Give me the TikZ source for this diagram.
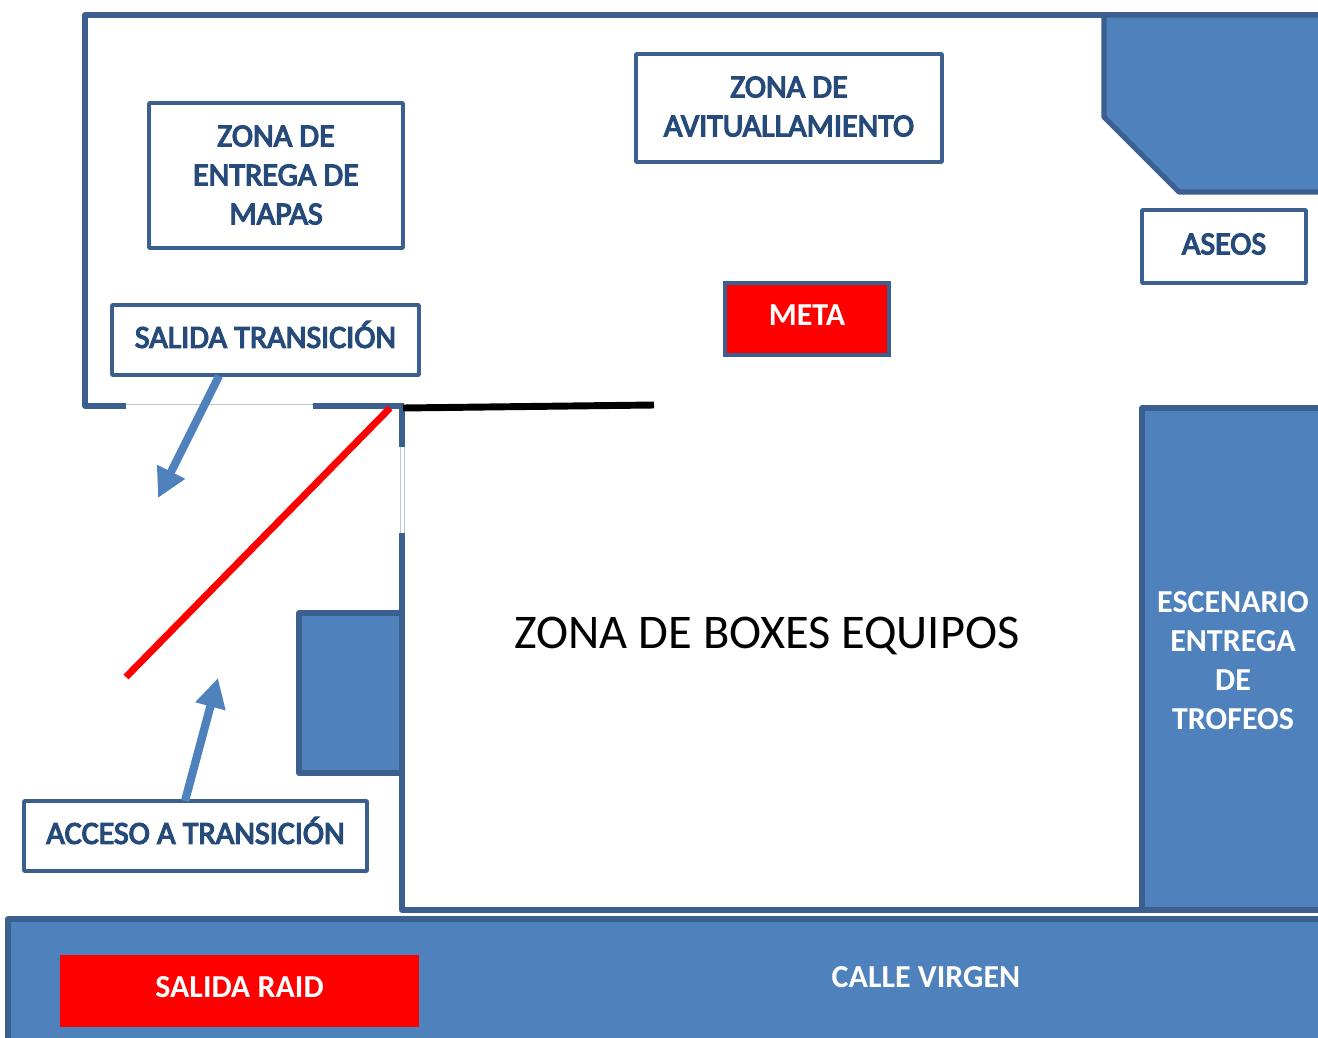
\documentclass[tikz,border=0pt]{standalone}
\usepackage{fontspec}
\setmainfont{Carlito}
\newfontfamily\heavyfont[FakeBold=4]{Carlito}
\usetikzlibrary{arrows.meta}
\definecolor{blueF}{HTML}{4F81BD}
\definecolor{blueL}{HTML}{3B6090}
\definecolor{blueT}{HTML}{264A7A}
\definecolor{redF}{HTML}{FF0000}
\newcommand{\liftby}[2]{\raisebox{\dimexpr #1pt*3/4\relax}[\height][\depth]{\begin{tabular}{@{}c@{}}#2\end{tabular}}}
\tikzset{
  x=0.75pt,y=-0.75pt,
  wall/.style={draw=blueL,line width=3.8pt,line join=round,line cap=butt},
  faint/.style={draw=blueL!35,line width=0.5pt},
  area/.style={draw=blueL,fill=blueF,line width=3.8pt,line join=round},
  labelbox/.style={draw=blueL,fill=white,line width=2.8pt,rounded corners=0.6pt,inner sep=0pt,outer sep=0pt,align=center,text=blueT,font=\heavyfont\fontsize{24}{29.25}\selectfont},
  solidbox/.style={inner sep=0pt,outer sep=0pt,align=center,text=white,font=\bfseries\fontsize{24}{29.25}\selectfont},
  flow/.style={draw=blueF,line width=6.2pt,-{Triangle[length=22pt,width=22pt]}},
  barrier/.style={line width=5.2pt,line cap=butt},
}
\begin{document}
\begin{tikzpicture}
\useasboundingbox (0,0) rectangle (1318,1038);
\clip (0,0) rectangle (1318,1038);
% building walls
\draw[wall] (126,406) -- (85,406) -- (85,15) -- (1320,15);
\draw[wall] (313,406) -- (404,406);
\draw[faint] (126,404) -- (313,404);
\draw[wall] (402,406) -- (402,447);
\draw[faint] (400,447) -- (400,533) (404.5,447) -- (404.5,533);
\draw[wall] (402,533) -- (402,910) -- (1320,910);
% blue areas
\draw[area] (1104,15) -- (1104,117) -- (1179,192) -- (1325,192) -- (1325,15) -- cycle;
\node[area,minimum width=200*0.75pt,minimum height=502*0.75pt,inner sep=0pt,outer sep=0pt,anchor=north west,align=center] (stage) at (1142,408) {};
\node[solidbox] (stagetext) at (1233,661) {ESCENARIO\\ENTREGA\\DE\\TROFEOS};
\node[area,minimum width=103*0.75pt,minimum height=160*0.75pt,inner sep=0pt,outer sep=0pt,anchor=north west] (block) at (299,613) {};
\node[area,minimum width=1330*0.75pt,minimum height=140*0.75pt,inner sep=0pt,outer sep=0pt,anchor=north west] (road) at (8,919) {};
\node[solidbox] (calle) at (926,977) {CALLE VIRGEN};
\node[solidbox,fill=redF,minimum width=359*0.75pt,minimum height=72*0.75pt] (raid) at (239.5,991) {\liftby{1}{SALIDA RAID}};
% label boxes
\node[labelbox,minimum width=254*0.75pt,minimum height=145*0.75pt] (mapas) at (276,175.5) {\liftby{-2}{ZONA DE\\ENTREGA DE\\MAPAS}};
\node[labelbox,minimum width=306*0.75pt,minimum height=108*0.75pt] (avit) at (789,108) {\liftby{-1}{ZONA DE\\AVITUALLAMIENTO}};
\node[labelbox,minimum width=164*0.75pt,minimum height=73*0.75pt] (aseos) at (1224,246.5) {\liftby{0}{ASEOS}};
\node[labelbox,minimum width=307*0.75pt,minimum height=70*0.75pt] (salida) at (265.5,340) {\liftby{0}{SALIDA TRANSICIÓN}};
\node[labelbox,minimum width=343*0.75pt,minimum height=70*0.75pt] (acceso) at (195.5,836) {\liftby{0}{ACCESO A TRANSICIÓN}};
\node[solidbox,draw=blueL,line width=2.8pt,fill=redF,minimum width=164*0.75pt,minimum height=72*0.75pt] (meta) at (807,319) {\liftby{1}{META}};
\node[inner sep=0pt,font=\fontsize{36.3}{44}\selectfont] (boxes) at (767,636) {ZONA DE BOXES EQUIPOS};
% flow arrows
\coordinate (outEnd) at (158,498);
\coordinate (inEnd) at (218,678);
\coordinate (outStart) at (219,376);
\coordinate (inStart) at (185,801);
\draw[flow] (outStart) -- (outEnd);
\draw[flow] (inStart) -- (inEnd);
% barriers
\coordinate (blackA) at (403,408);
\coordinate (blackB) at (654,405);
\coordinate (redA) at (390,408);
\coordinate (redB) at (126,677);
\draw[barrier,draw=black] (blackA) -- (blackB);
\draw[barrier,draw=redF] (redA) -- (redB);
\end{tikzpicture}
\end{document}
